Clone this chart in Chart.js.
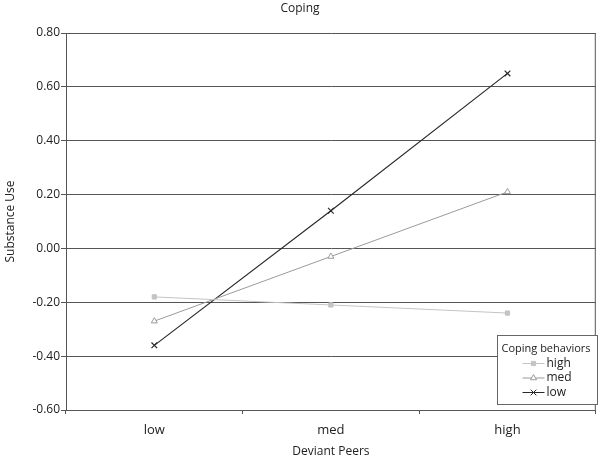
<!DOCTYPE html>
<html>
<head>
<meta charset="utf-8">
<script src="https://cdn.jsdelivr.net/npm/chart.js@4/dist/chart.umd.min.js"></script>
<style>
  body { margin: 0; background: #fff; }
</style>
</head>
<body>
<canvas id="myChart" width="601" height="461"></canvas>
<script>
const categories = ['low', 'med', 'high'];
const seriesNames = ['high', 'med', 'low'];
const highVals = [-0.18, -0.21, -0.24];
const medVals = [-0.27, -0.03, 0.21];
const lowVals = [-0.36, 0.14, 0.65];
const yTicks = [-0.6, -0.4, -0.2, 0, 0.2, 0.4, 0.6, 0.8];

const font = 'Open Sans';

// legend drawn inside the plot, bottom right
const boxLegend = {
  id: 'boxLegend',
  afterDraw(chart) {
    const c = chart.ctx, a = chart.chartArea;
    c.save();
    // plot border
    c.strokeStyle = '#555';
    c.lineWidth = 1;
    c.beginPath();
    c.moveTo(a.right - 0.5, a.top);
    c.lineTo(a.right - 0.5, a.bottom);
    c.stroke();

    const x = 497.5, y = 335.5, w = 100, h = 69;
    c.fillStyle = '#fff';
    c.fillRect(x, y, w, h);
    c.strokeStyle = '#666';
    c.strokeRect(x, y, w, h);
    c.fillStyle = '#222';
    c.font = '11px "' + font + '"';
    c.textBaseline = 'middle';
    c.textAlign = 'left';
    c.fillText('Coping behaviors', x + 4, y + 13);
    c.font = '12px "' + font + '"';
    chart.data.datasets.forEach((ds, i) => {
      const ly = y + 28 + i * 14.5;
      c.strokeStyle = ds.borderColor;
      c.fillStyle = ds.backgroundColor;
      c.lineWidth = 1;
      c.beginPath();
      c.moveTo(x + 25, ly);
      c.lineTo(x + 47, ly);
      c.stroke();
      Chart.helpers.drawPoint(c, {
        pointStyle: ds.pointStyle, radius: ds.pointRadius, borderWidth: 1
      }, x + 36, ly);
      c.fillStyle = '#222';
      c.fillText(ds.label, x + 49, ly);
    });
    c.restore();
  }
};

const ctx = document.getElementById('myChart');
new Chart(ctx, {
  type: 'line',
  data: {
    labels: categories,
    datasets: [{
      label: seriesNames[0],
      data: highVals,
      borderColor: '#c4c4c4',
      backgroundColor: '#c4c4c4',
      borderWidth: 1,
      pointStyle: 'rect',
      pointRadius: 3
    }, {
      label: seriesNames[1],
      data: medVals,
      borderColor: '#9a9a9a',
      backgroundColor: '#fff',
      borderWidth: 1,
      pointStyle: 'triangle',
      pointRadius: 3.5
    }, {
      label: seriesNames[2],
      data: lowVals,
      borderColor: '#2a2a2a',
      backgroundColor: '#2a2a2a',
      borderWidth: 1.2,
      pointStyle: 'crossRot',
      pointRadius: 4
    }]
  },
  options: {
    responsive: false,
    animation: false,
    layout: { padding: { right: 1 } },
    plugins: {
      legend: { display: false },
      tooltip: { enabled: false },
      title: {
        display: true,
        text: 'Coping',
        color: '#222',
        font: { family: font, size: 12, weight: 'normal' },
        padding: { top: 1, bottom: 17.6 }
      }
    },
    scales: {
      x: {
        offset: true,
        afterFit: s => { s.height = 51; },
        grid: { offset: true, drawOnChartArea: false, tickLength: 4, color: '#555' },
        border: { color: '#555' },
        ticks: { color: '#222', padding: 8, font: { family: font, size: 13 } },
        title: {
          display: true, text: 'Deviant Peers', color: '#222',
          font: { family: font, size: 12 }, padding: { bottom: 2, top: 0 }
        }
      },
      y: {
        min: -0.6,
        max: 0.8,
        afterFit: s => { s.width = 66; },
        afterBuildTicks: s => { s.ticks = yTicks.map(v => ({ value: v })); },
        grid: { color: '#555', tickLength: 5 },
        border: { color: '#555' },
        ticks: {
          color: '#222', padding: 1, autoSkip: false,
          font: { family: font, size: 12 },
          callback: v => v.toFixed(2)
        },
        title: {
          display: true, text: 'Substance Use', color: '#222',
          font: { family: font, size: 12 }, padding: { top: 3, bottom: 0 }
        }
      }
    }
  },
  plugins: [boxLegend]
});
</script>
</body>
</html>
